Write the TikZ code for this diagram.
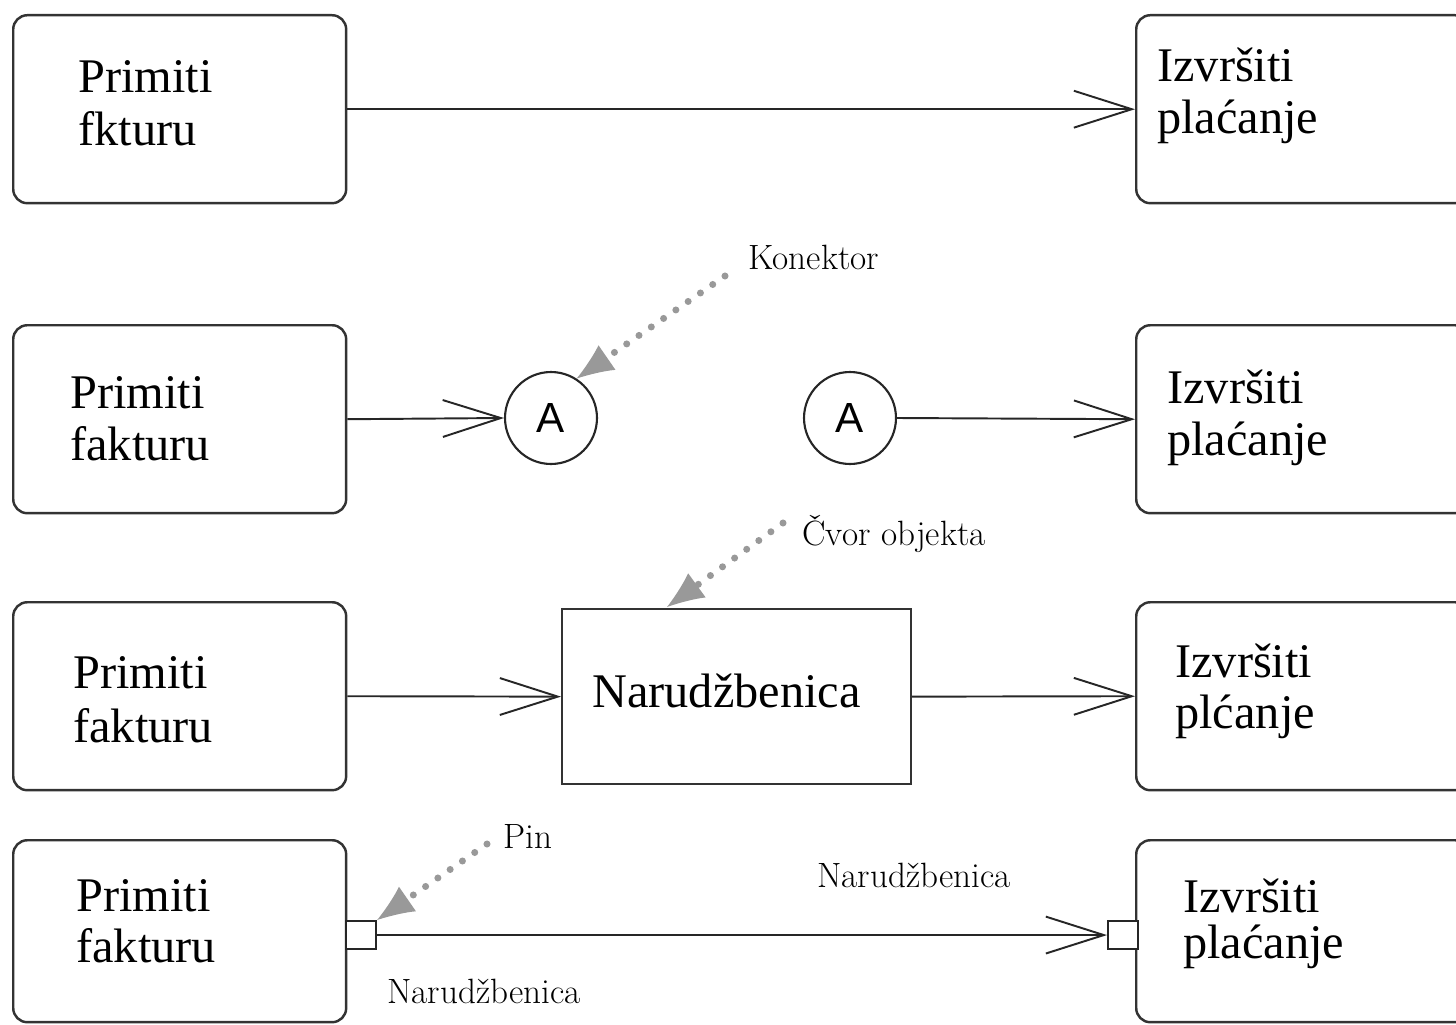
\documentclass[tikz,border=0pt]{standalone}
\usepackage{fontspec}
\setmainfont{Liberation Serif}
\newfontfamily\notefont{Latin Modern Roman}
\newfontfamily\letterfont{Liberation Sans}
\usetikzlibrary{arrows.meta,calc}

\tikzset{
  actbox/.style={draw=black!80, line width=1.4pt, rounded corners=8pt, fill=white,
    minimum width=6.66cm, minimum height=3.76cm, anchor=north west, inner sep=0pt},
  objbox/.style={draw=black!80, line width=1.3pt, fill=white, anchor=north west,
    minimum width=6.98cm, minimum height=3.5cm, inner sep=0pt},
  pinbox/.style={draw=black!85, line width=1.2pt, fill=white, anchor=north west,
    minimum width=0.6cm, minimum height=0.56cm, inner sep=0pt},
  joint/.style={circle, draw=black!85, line width=1.2pt, fill=white, minimum size=1.84cm,
    inner sep=0pt, font=\letterfont\fontsize{24}{24}\selectfont},
  big/.style={font=\fontsize{27.5}{31}\selectfont, anchor=base west, inner sep=0pt},
  note/.style={font=\notefont\fontsize{20}{24}\selectfont, anchor=base west, inner sep=0pt},
  flow/.style={draw=black!85, line width=1.1pt,
    -{Straight Barb[length=33pt,width=21pt,line width=1.1pt]}},
  pointer/.style={draw=black!40, line width=4pt, dash pattern=on 0pt off 8.5pt, line cap=round,
    -{Latex[length=21pt,width=17pt,line width=0pt]}},
}

\begin{document}
\begin{tikzpicture}[x=0.02cm,y=-0.02cm]
\useasboundingbox (0,0) rectangle (1456,1024);
\clip (0,0) rectangle (1456,1024);

% ---- row 1: direct flow
\node[actbox] (L1) at (12,14) {};
\node[actbox] (R1) at (1135,14) {};
\node[big] (L1a) at (78,92) {Primiti};
\node[big] (L1b) at (78,145) {fkturu};
\node[big] (R1a) at (1157,82) {Izvršiti};
\node[big] (R1b) at (1157,133) {plaćanje};
\draw[flow] (L1.east) -- (R1.west);

% ---- row 2: connectors
\node[actbox] (L2) at (12,324) {};
\node[actbox] (R2) at (1135,324) {};
\node[big] (L2a) at (70,408) {Primiti};
\node[big] (L2b) at (70,460) {fakturu};
\node[big] (R2a) at (1167,403) {Izvršiti};
\node[big] (R2b) at (1167,455) {plaćanje};
\node[joint] (C1) at (551,418) {A};
\node[joint] (C2) at (850,418) {A};
\draw[flow] (L2.east) -- (C1.west);
\draw[flow] (C2.east) -- (R2.west);
\node[note] (k) at (748,269) {Konektor};
\coordinate (kt) at (725,276);
\draw[pointer] (kt) -- (C1.57);

% ---- row 3: object node
\node[actbox] (L3) at (12,601) {};
\node[actbox] (R3) at (1135,601) {};
\node[big] (L3a) at (73,688) {Primiti};
\node[big] (L3b) at (73,742) {fakturu};
\node[big] (R3a) at (1175,677) {Izvršiti};
\node[big] (R3b) at (1175,728) {plćanje};
\node[objbox] (O) at (561,608) {};
\node[big] (Oa) at (592,707) {Narudžbenica};
\draw[flow] (L3.east) -- (O.west);
\draw[flow] (O.east) -- (R3.west);
\node[note] (c) at (802,545) {Čvor objekta};
\coordinate (ct) at (783,523);
\coordinate (ch) at (667,607);
\draw[pointer] (ct) -- (ch);

% ---- row 4: pins
\node[actbox, minimum height=3.64cm] (L4) at (12,839) {};
\node[actbox, minimum height=3.64cm] (R4) at (1135,839) {};
\node[big] (L4a) at (76,911) {Primiti};
\node[big] (L4b) at (76,962) {fakturu};
\node[big] (R4a) at (1183,912) {Izvršiti};
\node[big] (R4b) at (1183,958) {plaćanje};
\node[pinbox] (P1) at (345,920) {};
\node[pinbox] (P2) at (1107,920) {};
\draw[flow] (P1.east) -- (P2.west);
\node[note] (p) at (503,848) {Pin};
\coordinate (pt) at (487,844);
\draw[pointer] (pt) -- (P1.north east);
\node[note] (n1) at (817,887) {Narudžbenica};
\node[note] (n2) at (387,1003) {Narudžbenica};
\end{tikzpicture}
\end{document}
